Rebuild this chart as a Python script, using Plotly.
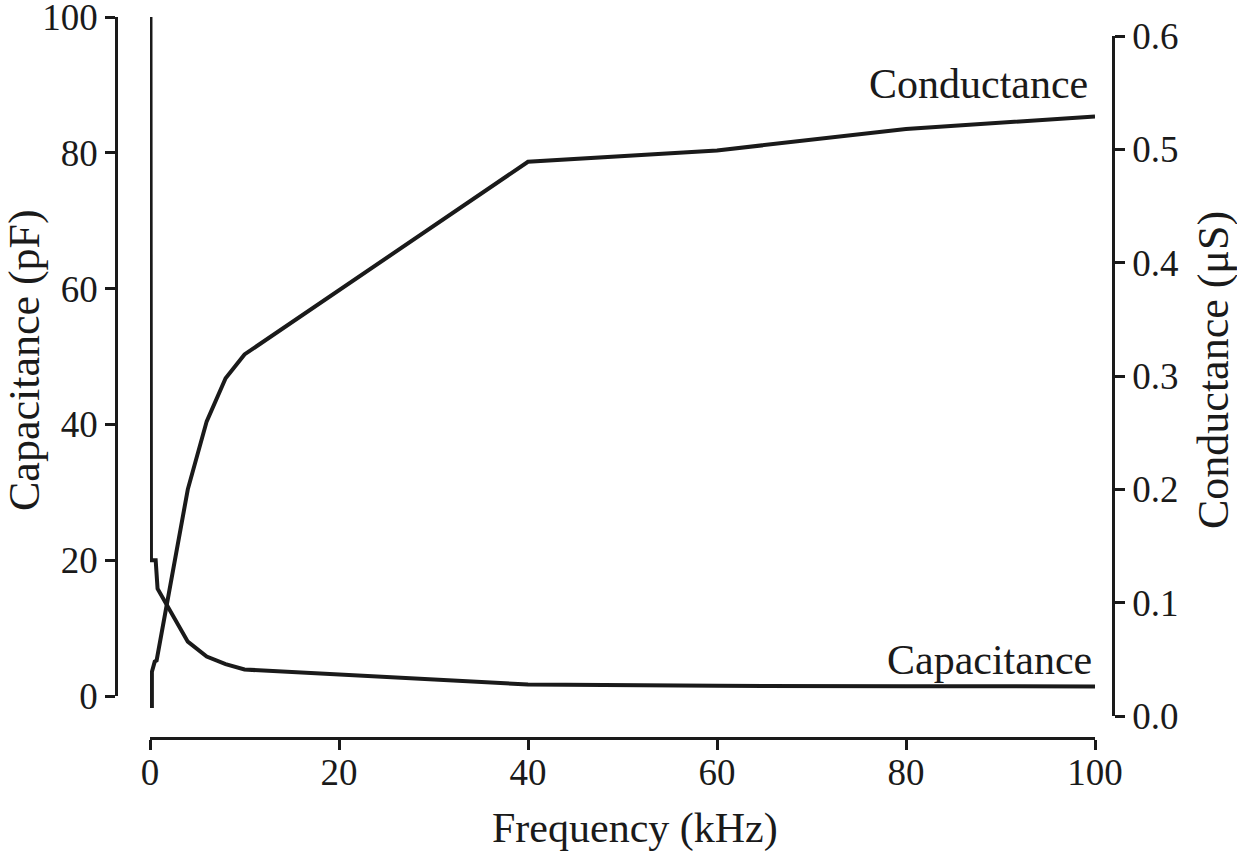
import plotly.graph_objects as go

# Data
cap_freq = [0.05, 0.1, 0.6, 0.8, 4, 6, 8, 10, 40, 60, 80, 100]
cap_pf = [100, 20, 20, 15.8, 8.0, 5.8, 4.7, 3.9, 1.7, 1.5, 1.45, 1.4]

cond_freq = [0.2, 0.2, 0.5, 0.7, 4, 6, 8, 10, 40, 60, 80, 100]
cond_us = [0.007, 0.039, 0.048, 0.049, 0.2, 0.26, 0.298, 0.319, 0.489, 0.499, 0.518, 0.529]

x_ticks = [0, 20, 40, 60, 80, 100]
cap_ticks = [0, 20, 40, 60, 80, 100]
cond_ticks = [0.0, 0.1, 0.2, 0.3, 0.4, 0.5, 0.6]

W, H = 1237, 857
FONT = "Liberation Serif"
INK = "#1a1a1a"

def px_x(p):
    return p / W

def px_y(p):
    return (H - p) / H

fig = go.Figure()
fig.add_trace(go.Scatter(x=cap_freq, y=cap_pf, mode="lines", xaxis="x", yaxis="y",
                         line=dict(color=INK, width=4), name="Capacitance",
                         showlegend=False))
fig.add_trace(go.Scatter(x=cond_freq, y=cond_us, mode="lines", xaxis="x", yaxis="y2",
                         line=dict(color=INK, width=4), name="Conductance",
                         showlegend=False))

axis_common = dict(showline=True, linecolor=INK, linewidth=2.6, ticks="outside",
                   ticklen=10, tickwidth=2.6, tickcolor=INK, showgrid=False,
                   zeroline=False, automargin=False, ticklabeloverflow="allow",
                   tickfont=dict(family=FONT, size=37, color=INK))

fig.update_layout(
    template="none",
    width=W, height=H,
    margin=dict(l=0, r=0, t=0, b=0, pad=0),
    paper_bgcolor="white", plot_bgcolor="rgba(0,0,0,0)",
    font=dict(family=FONT, color=INK),
    xaxis=dict(domain=[px_x(150), px_x(1095)], range=[0, 100], anchor="free",
               position=px_y(738), tickvals=x_ticks, ticklabelstandoff=-9,
               **axis_common),
    yaxis=dict(domain=[px_y(696), px_y(17)], range=[0, 100], anchor="free",
               position=px_x(116), tickvals=cap_ticks, **axis_common),
    yaxis2=dict(domain=[px_y(716), px_y(36)], range=[0, 0.6], anchor="free",
                position=px_x(1113), side="right", tickvals=cond_ticks,
                tickformat=".1f", **axis_common),
)

annos = [
    dict(text="Frequency (kHz)", x=px_x(635), y=px_y(828), xanchor="center", yanchor="middle",
         font=dict(size=42)),
    dict(text="Capacitance (pF)", x=px_x(24), y=px_y(360), xanchor="center", yanchor="middle",
         textangle=-90, font=dict(size=44)),
    dict(text="Conductance (μS)", x=px_x(1213), y=px_y(370), xanchor="center", yanchor="middle",
         textangle=-90, font=dict(size=44)),
    dict(text="Conductance", x=px_x(1090), y=px_y(84), xanchor="right", yanchor="middle",
         font=dict(size=42)),
    dict(text="Capacitance", x=px_x(1094), y=px_y(660), xanchor="right", yanchor="middle",
         font=dict(size=42)),
]
for a in annos:
    a.update(xref="paper", yref="paper", showarrow=False)
    a["font"].update(family=FONT, color=INK)
fig.update_layout(annotations=annos)

fig.write_html("out.html", config={"displayModeBar": False},
               post_script="document.body.style.margin='0';document.body.style.overflow='hidden';")
